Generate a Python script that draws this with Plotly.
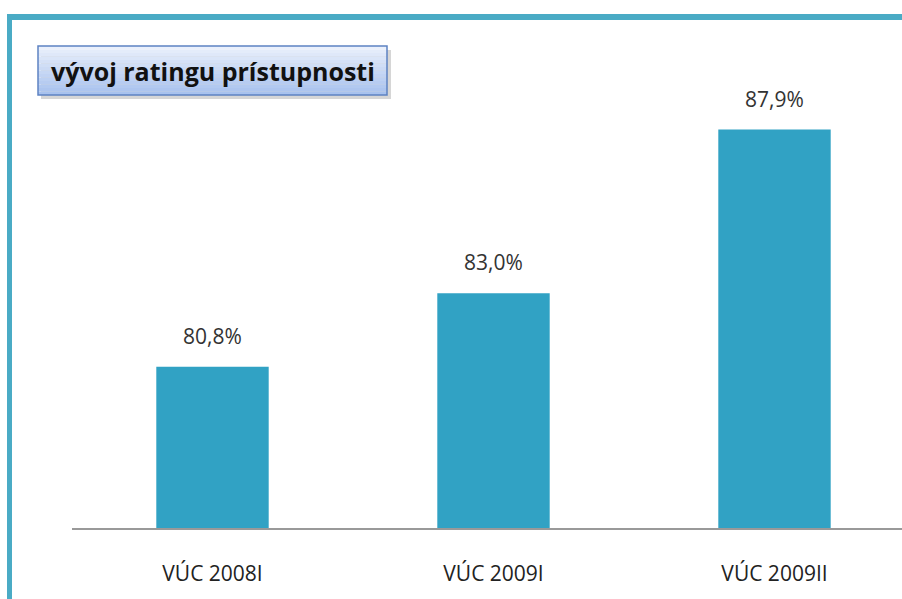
import plotly.graph_objects as go

categories = ["VÚC 2008I", "VÚC 2009I", "VÚC 2009II"]
values = [80.8, 83.0, 87.9]
labels = ["80,8%", "83,0%", "87,9%"]
title_text = "vývoj ratingu prístupnosti"

W, H = 930, 599
L = 72
T = 59
AXIS_Y = 528
B = H - AXIS_Y
PW = W - L
PH = AXIS_Y - T
CAT_STEP = 281.0
PX_PER_UNIT = 33.4


def px(x):
    return (x - L) / PW


def py(y):
    return (AXIS_Y - y) / PH


fig = go.Figure()
fig.add_trace(go.Bar(
    x=categories, y=values, width=0.4,
    marker=dict(color="#31A2C4", line=dict(width=0)),
    hoverinfo="skip",
))

for c, v, t in zip(categories, values, labels):
    fig.add_annotation(x=c, y=v, text=t, showarrow=False, yanchor="bottom",
                       yshift=15, font=dict(family="Open Sans", size=21, color="#333333"))

shapes = []
# frame
shapes.append(dict(type="line", xref="paper", yref="paper", x0=px(7), x1=px(W), y0=py(17), y1=py(17),
                   line=dict(color="#4AABC5", width=6)))
shapes.append(dict(type="line", xref="paper", yref="paper", x0=px(9.5), x1=px(9.5), y0=py(14), y1=py(605),
                   line=dict(color="#4AABC5", width=5)))
# title box shadow
shapes.append(dict(type="rect", xref="paper", yref="paper", x0=px(41), x1=px(391), y0=py(99), y1=py(50),
                   fillcolor="rgba(0,0,0,0.16)", line=dict(width=0), layer="above"))
# title box gradient
bx0, bx1, by0, by1 = 38, 387, 46, 95
n = 14
c_top = (234, 240, 252)
c_bot = (168, 194, 238)
for i in range(n):
    f = i / (n - 1)
    col = tuple(int(c_top[k] + (c_bot[k] - c_top[k]) * f) for k in range(3))
    ya = by0 + (by1 - by0) * i / n
    yb = by0 + (by1 - by0) * (i + 1) / n
    shapes.append(dict(type="rect", xref="paper", yref="paper", x0=px(bx0), x1=px(bx1), y0=py(yb), y1=py(ya),
                       fillcolor="rgb(%d,%d,%d)" % col, line=dict(width=0), layer="above"))
shapes.append(dict(type="rect", xref="paper", yref="paper", x0=px(bx0), x1=px(bx1), y0=py(by1), y1=py(by0),
                   fillcolor="rgba(0,0,0,0)", line=dict(color="#5E82C2", width=1.5), layer="above"))
fig.update_layout(shapes=shapes)

fig.add_annotation(xref="paper", yref="paper", x=px((bx0 + bx1) / 2), y=py((by0 + by1) / 2),
                   text=title_text, showarrow=False, xanchor="center", yanchor="middle",
                   font=dict(family="Open Sans", size=25, color="#111111", weight="bold"))

fig.update_layout(
    width=W, height=H,
    margin=dict(l=L, r=0, t=T, b=B, pad=0),
    paper_bgcolor="white", plot_bgcolor="white",
    showlegend=False,
    bargap=0.6,
    xaxis=dict(range=[-0.5, -0.5 + PW / CAT_STEP], showline=True, linecolor="#999999", linewidth=1.5,
               ticks="", showgrid=False, zeroline=False, ticklabelstandoff=26,
               tickfont=dict(family="Open Sans", size=21, color="#222222"),
               fixedrange=True),
    yaxis=dict(range=[76 - 1 / PX_PER_UNIT, 76 + (PH - 1) / PX_PER_UNIT], showticklabels=False,
               showgrid=False, zeroline=False, showline=False, fixedrange=True),
)

fig.write_html("out.html", config={"displayModeBar": False},
               post_script="document.documentElement.style.overflow='hidden';"
                           "document.body.style.margin='0';document.body.style.overflow='hidden';")
